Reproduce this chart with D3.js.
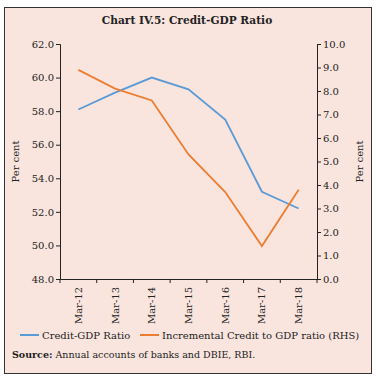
<!DOCTYPE html>
<html>
<head>
<meta charset="utf-8">
<script src="https://cdn.jsdelivr.net/npm/d3@7"></script>
<style>
  body { margin: 0; background: #fff; }
  svg text { font-family: "DejaVu Serif", serif; fill: #222; }
</style>
</head>
<body>
<div id="chart"></div>
<script>
// data
const categories = ["Mar-12", "Mar-13", "Mar-14", "Mar-15", "Mar-16", "Mar-17", "Mar-18"];
const creditGdp = [58.1, 59.1, 60.0, 59.3, 57.5, 53.2, 52.2];          // left axis
const incrementalCredit = [8.9, 8.1, 7.6, 5.3, 3.7, 1.4, 3.8];       // right axis (RHS)
const leftTicks = [48, 50, 52, 54, 56, 58, 60, 62];
const rightTicks = [0, 1, 2, 3, 4, 5, 6, 7, 8, 9, 10];

const W = 376, H = 380;
const margin = {top: 44, right: 59, bottom: 101, left: 60};

const svg = d3.select("#chart").append("svg")
    .attr("width", W)
    .attr("height", H);

// panel background + frame
svg.append("rect")
    .attr("x", 4.5).attr("y", 7.5)
    .attr("width", 367).attr("height", 366)
    .attr("fill", "#f9e5de")
    .attr("stroke", "#333").attr("stroke-width", 1);

svg.append("text")
    .attr("x", 187).attr("y", 24)
    .attr("text-anchor", "middle")
    .style("font-weight", "bold")
    .style("font-size", "10.6px")
    .text("Chart IV.5: Credit-GDP Ratio");

const x = d3.scaleBand()
    .domain(categories)
    .range([margin.left, W - margin.right]);

const yL = d3.scaleLinear()
    .domain([48, 62])
    .range([H - margin.bottom, margin.top]);

const yR = d3.scaleLinear()
    .domain([0, 10])
    .range([H - margin.bottom, margin.top]);

// axes
const gx = svg.append("g")
    .attr("transform", `translate(0,${H - margin.bottom})`)
    .call(d3.axisBottom(x).tickSize(0).tickFormat(""));
gx.selectAll(".domain").attr("stroke", "#222");

// tick marks on band boundaries
const bounds = categories.map(c => x(c)).concat([x.range()[1]]);
gx.selectAll("line.bnd")
    .data(bounds)
    .enter().append("line")
    .attr("class", "bnd")
    .attr("x1", d => d).attr("x2", d => d)
    .attr("y1", 0).attr("y2", 4)
    .attr("stroke", "#222");

gx.selectAll("text.lab")
    .data(categories)
    .enter().append("text")
    .attr("class", "lab")
    .attr("transform", d => `translate(${x(d) + x.bandwidth() / 2 + 3.5},8) rotate(-90)`)
    .attr("text-anchor", "end")
    .style("font-size", "10px")
    .text(d => d);

const gl = svg.append("g")
    .attr("transform", `translate(${margin.left},0)`)
    .call(d3.axisLeft(yL).tickValues(leftTicks).tickFormat(d3.format(".1f")).tickSizeOuter(0).tickSize(4));

const gr = svg.append("g")
    .attr("transform", `translate(${W - margin.right},0)`)
    .call(d3.axisRight(yR).tickValues(rightTicks).tickFormat(d3.format(".1f")).tickSizeOuter(0).tickSize(4));

[gl, gr].forEach(g => {
    g.selectAll(".domain").attr("stroke", "#222");
    g.selectAll(".tick line").attr("stroke", "#222");
    g.selectAll(".tick text")
        .style("font-family", "DejaVu Serif, serif")
        .style("font-size", "10px")
        .attr("fill", "#222");
});
gl.selectAll(".tick text").attr("x", -6);
gr.selectAll(".tick text").attr("x", 6);

// axis titles
svg.append("text")
    .attr("transform", `translate(19,${(margin.top + H - margin.bottom) / 2}) rotate(-90)`)
    .attr("text-anchor", "middle")
    .style("font-size", "10px")
    .text("Per cent");

svg.append("text")
    .attr("transform", `translate(363,${(margin.top + H - margin.bottom) / 2}) rotate(-90)`)
    .attr("text-anchor", "middle")
    .style("font-size", "10px")
    .text("Per cent");

// lines
const cx = d => x(d) + x.bandwidth() / 2;

svg.append("path")
    .datum(creditGdp)
    .attr("fill", "none")
    .attr("stroke", "#5b9bd5")
    .attr("stroke-width", 1.8)
    .attr("d", d3.line().x((d, i) => cx(categories[i])).y(d => yL(d)));

svg.append("path")
    .datum(incrementalCredit)
    .attr("fill", "none")
    .attr("stroke", "#ed7d31")
    .attr("stroke-width", 1.8)
    .attr("d", d3.line().x((d, i) => cx(categories[i])).y(d => yR(d)));

// legend
const legend = [
    {label: "Credit-GDP Ratio", color: "#5b9bd5", x: 20},
    {label: "Incremental Credit to GDP ratio (RHS)", color: "#ed7d31", x: 140}
];
const lg = svg.append("g").attr("transform", "translate(0,335)");
lg.selectAll("line")
    .data(legend)
    .enter().append("line")
    .attr("x1", d => d.x).attr("x2", d => d.x + 19)
    .attr("y1", 0).attr("y2", 0)
    .attr("stroke", d => d.color)
    .attr("stroke-width", 2);
lg.selectAll("text")
    .data(legend)
    .enter().append("text")
    .attr("x", d => d.x + 22)
    .attr("y", 3.5)
    .style("font-size", "10px")
    .text(d => d.label);

// source note
const src = svg.append("text")
    .attr("x", 12).attr("y", 358)
    .style("font-size", "9.5px");
src.append("tspan").style("font-weight", "bold").text("Source:");
src.append("tspan").text(" Annual accounts of banks and DBIE, RBI.");
</script>
</body>
</html>
